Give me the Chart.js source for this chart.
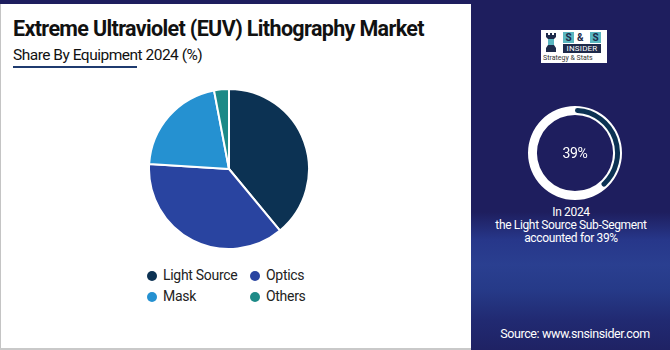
<!DOCTYPE html>
<html>
<head>
<meta charset="utf-8">
<script src="https://cdn.jsdelivr.net/npm/chart.js@4.4.0/dist/chart.umd.min.js"></script>
<style>
  html, body { margin: 0; padding: 0; }
  body { width: 670px; height: 350px; position: relative; overflow: hidden; background: #ffffff; font-family: Roboto, "Liberation Sans", sans-serif; }
  .topbar { position: absolute; left: 0; top: 0; width: 670px; height: 4px; background: #1e1e5e; }
  .leftedge { position: absolute; left: 0; top: 4px; width: 1px; height: 346px; background: #c4c4c4; }
  .bottomedge { position: absolute; left: 0; top: 348px; width: 471px; height: 2px; background: #c9c9c9; }
  .title { position: absolute; left: 13px; top: 16px; font-size: 21.5px; font-weight: 700; color: #111; letter-spacing: -0.65px; white-space: nowrap; }
  .subtitle { position: absolute; left: 13px; top: 46px; font-size: 15.5px; color: #111; letter-spacing: -0.5px; white-space: nowrap; }
  .underline { position: absolute; left: 13px; top: 66px; width: 124px; height: 2px; background: #1f3b6f; }
  #pieBox { position: absolute; left: 148px; top: 88px; width: 162px; height: 162px; }
  .legend { position: absolute; left: 0; top: 0; }
  .lg-item { position: absolute; font-size: 14px; color: #222; white-space: nowrap; letter-spacing: -0.3px; }
  .lg-dot { position: absolute; width: 10px; height: 10px; border-radius: 50%; }
  .panel { position: absolute; left: 471px; top: 0; width: 199px; height: 350px;
    background: linear-gradient(to bottom, #1e1e5e 0px, #1e1e5e 212px, #27378a 240px, #2a3f90 265px, #263a88 290px, #212a72 320px, #1f2264 350px); }
  .logo { position: absolute; left: 541px; top: 30px; width: 66px; height: 33px; background: #fff; }
  .rook { position: absolute; left: 4px; top: 3px; width: 12px; height: 19px; }
  .ss { position: absolute; left: 22px; top: 2px; width: 38px; height: 11px; font-size: 10px; font-weight: 700; color: #1e2a4a; }
  .ss span.b { position: absolute; top: 0; width: 11px; height: 11px; background: #5ab6c0; text-align: center; line-height: 11px; }
  .ins { position: absolute; left: 22px; top: 14px; width: 38px; height: 9px; background: #1e2a4a; color: #fff; font-size: 8px; line-height: 9px; text-align: center; letter-spacing: 0.2px; }
  .strat { position: absolute; left: 2px; top: 24px; font-size: 7px; color: #333; white-space: nowrap; }
  #ringBox { position: absolute; left: 528px; top: 106px; width: 94px; height: 94px; }
  .pct { position: absolute; left: 528px; top: 143px; width: 94px; text-align: center; color: #fff; font-size: 14px; line-height: 20px; letter-spacing: -0.3px; }
  .note { position: absolute; left: 471px; width: 200px; text-align: center; color: #fff; font-size: 12px; line-height: 12px; height: 12px; letter-spacing: -0.35px; white-space: nowrap; }
  .source { position: absolute; left: 471px; top: 326px; width: 208px; text-align: center; color: #fff; font-size: 12.5px; letter-spacing: -0.4px; }
</style>
</head>
<body>
<div class="topbar"></div>
<div class="leftedge"></div>
<div class="bottomedge"></div>
<div class="title">Extreme Ultraviolet (EUV) Lithography Market</div>
<div class="subtitle">Share By Equipment 2024 (%)</div>
<div class="underline"></div>
<div id="pieBox"><canvas id="pie" width="162" height="162"></canvas></div>
<div class="legend" id="legend"></div>

<div class="panel"></div>
<div class="logo">
  <svg class="rook" viewBox="0 0 12 19">
    <path d="M1 0h2v2h2V0h2v2h2V0h2v4l-2 2v6l2 3v4H1v-4l2-3V6L1 4z" fill="#1e2a4a"/>
    <path d="M3 6h6v6H3z" fill="#5ab6c0"/>
  </svg>
  <div class="ss"><span class="b" style="left:0">S</span><span style="position:absolute;left:14px;top:0;line-height:11px">&amp;</span><span class="b" style="left:27px">S</span></div>
  <div class="ins">INSIDER</div>
  <div class="strat">Strategy &amp; Stats</div>
</div>
<div id="ringBox"><canvas id="ring" width="94" height="94"></canvas></div>
<div class="pct" id="pct"></div>
<div class="note" id="note1" style="top:206px"></div>
<div class="note" id="note2" style="top:219px"></div>
<div class="note" id="note3" style="top:232px"></div>
<div class="source">Source: www.snsinsider.com</div>

<script>
// Equipment segments and their 2024 shares (%)
const segments = ['Light Source', 'Optics', 'Mask', 'Others'];
const shares = [39, 37, 21, 3];
const segmentColors = ['#0c3253', '#2944a0', '#2591d1', '#1d8a87'];

// Highlighted segment for the side panel
const highlightIndex = 0;
const highlightYear = '2024';

// Share chart
new Chart(document.getElementById('pie'), {
  type: 'pie',
  data: {
    labels: segments,
    datasets: [{
      data: shares,
      backgroundColor: segmentColors,
      borderColor: '#ffffff',
      borderWidth: 2
    }]
  },
  options: {
    responsive: false,
    animation: false,
    layout: { padding: 0 },
    plugins: { legend: { display: false }, tooltip: { enabled: false } }
  }
});

// Two-column legend built from the segment list
const legendPos = [
  { dot: [147, 271], text: [163, 267] },
  { dot: [250, 271], text: [266, 267] },
  { dot: [147, 292], text: [163, 288] },
  { dot: [250, 292], text: [266, 288] }
];
const legendEl = document.getElementById('legend');
segments.forEach((name, i) => {
  const dot = document.createElement('div');
  dot.className = 'lg-dot';
  dot.style.left = legendPos[i].dot[0] + 'px';
  dot.style.top = legendPos[i].dot[1] + 'px';
  dot.style.background = segmentColors[i];
  legendEl.appendChild(dot);
  const t = document.createElement('div');
  t.className = 'lg-item';
  t.style.left = legendPos[i].text[0] + 'px';
  t.style.top = legendPos[i].text[1] + 'px';
  t.textContent = name;
  legendEl.appendChild(t);
});

// White track behind the progress ring
const ringTrack = {
  id: 'ringTrack',
  beforeDatasetsDraw(chart) {
    const outer = chart.getDatasetMeta(0).data[0];
    const inner = chart.getDatasetMeta(2).data[0];
    const ctx = chart.ctx;
    ctx.save();
    ctx.beginPath();
    ctx.arc(outer.x, outer.y, outer.outerRadius, 0, Math.PI * 2);
    ctx.arc(outer.x, outer.y, inner.innerRadius, 0, Math.PI * 2, true);
    ctx.closePath();
    ctx.fillStyle = '#ffffff';
    ctx.fill();
    ctx.restore();
  }
};

const hv = shares[highlightIndex];
new Chart(document.getElementById('ring'), {
  type: 'doughnut',
  data: {
    datasets: [
      { data: [100], backgroundColor: ['rgba(0,0,0,0)'], borderWidth: 0, weight: 2 },
      { data: [hv, 100 - hv], backgroundColor: ['#0c3253', 'rgba(0,0,0,0)'], borderWidth: 0, weight: 5,
        borderRadius: (c) => c.dataIndex === 0 ? 2.5 : 0 },
      { data: [100], backgroundColor: ['rgba(0,0,0,0)'], borderWidth: 0, weight: 2 }
    ]
  },
  options: {
    responsive: false,
    animation: false,
    cutout: '81%',
    layout: { padding: 0 },
    plugins: { legend: { display: false }, tooltip: { enabled: false } }
  },
  plugins: [ringTrack]
});

document.getElementById('pct').textContent = hv + '%';
document.getElementById('note1').textContent = 'In ' + highlightYear;
document.getElementById('note2').textContent = 'the ' + segments[highlightIndex] + ' Sub-Segment';
document.getElementById('note3').textContent = 'accounted for ' + hv + '%';
</script>
</body>
</html>
